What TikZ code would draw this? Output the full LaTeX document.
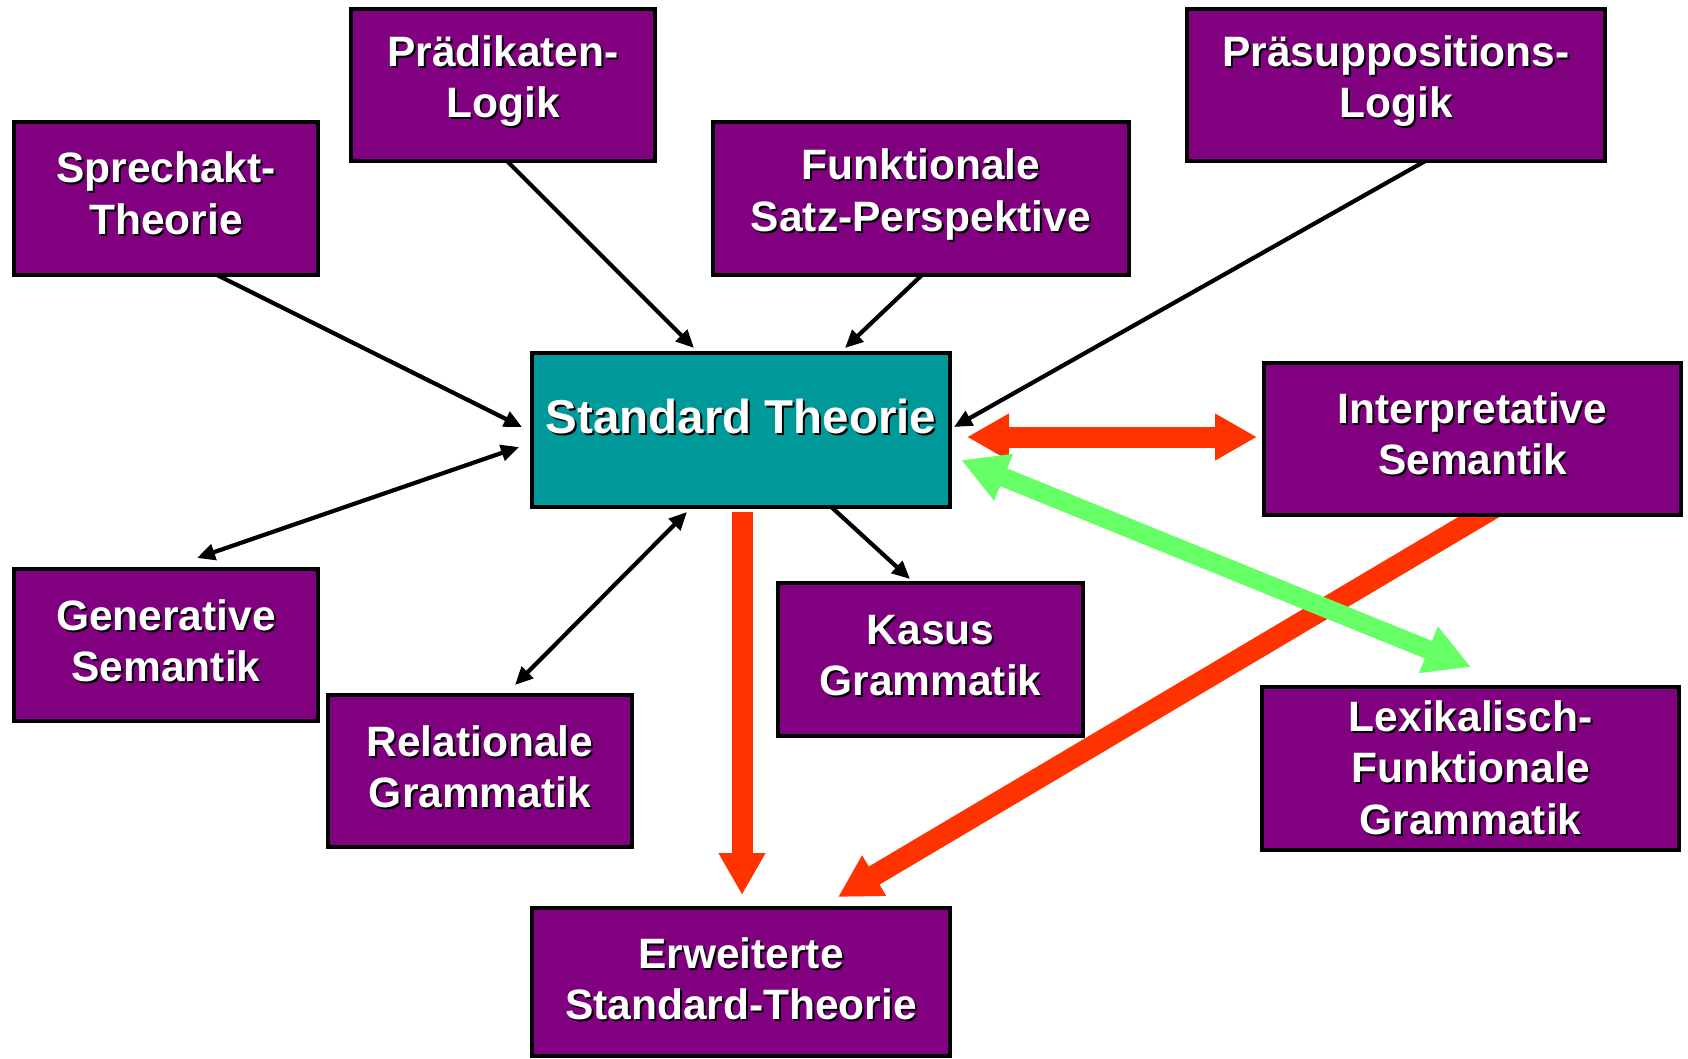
\documentclass[tikz,border=0pt]{standalone}
\usepackage{fontspec}
\setmainfont{Liberation Sans}
\usetikzlibrary{arrows.meta}

\definecolor{boxpurple}{HTML}{800080}
\definecolor{boxteal}{HTML}{009999}
\definecolor{arrred}{HTML}{FF3300}
\definecolor{arrgreen}{HTML}{66FF66}

\tikzset{
  panel/.style={draw=black, line width=4.5pt, inner sep=0pt},
  lbl/.style={align=center, inner sep=0pt, font=\fontsize{42.5}{51.5}\selectfont\bfseries},
  biglbl/.style={align=center, inner sep=0pt, font=\fontsize{47.5}{56}\selectfont\bfseries},
  thinarr/.style={line width=4.2pt, -{Triangle[length=18pt,width=16pt]}},
  thinboth/.style={line width=4.2pt, {Triangle[length=18pt,width=16pt]}-{Triangle[length=18pt,width=16pt]}},
  redarr/.style={draw=arrred, line width=21pt, -{Triangle[length=42pt,width=44pt]}},
  redboth/.style={draw=arrred, line width=21pt, {Triangle[length=42pt,width=44pt]}-{Triangle[length=42pt,width=44pt]}},
  greenboth/.style={draw=arrgreen, line width=19pt, {Triangle[length=46pt,width=47pt]}-{Triangle[length=46pt,width=47pt]}},
}

% #1 name, #2..#5 corners (x1,y1,x2,y2), #6 fill colour
\newcommand\panelbox[6]{%
  \node[panel, fill=#6, minimum width={(#4-#2)*1pt}, minimum height={(#5-#3)*1pt}]
    (#1) at ({(#2+#4)/2},{(#3+#5)/2}) {};}
% #1 panel name, #2 label style, #3 vertical offset, #4 text (white with black drop shadow)
\newcommand\paneltext[4]{%
  \node[#2, text=black] (#1-shadow) at ([shift={(2,#3+2)}]#1.center) {#4};
  \node[#2, text=white] (#1-label) at ([shift={(0,#3)}]#1.center) {#4};}

\begin{document}
\begin{tikzpicture}[x=1pt, y=-1pt]
\fill[white] (0,0) rectangle (1688,1058);
\useasboundingbox (0,0) rectangle (1688,1058);

% connector end points
\coordinate (p1a) at (215,274);  \coordinate (p1b) at (522,427);
\coordinate (p2a) at (506,160);  \coordinate (p2b) at (694,348);
\coordinate (p3a) at (923,274);  \coordinate (p3b) at (845,348);
\coordinate (p4a) at (1427,160); \coordinate (p4b) at (954,427);
\coordinate (p5a) at (197,558);  \coordinate (p5b) at (519,447);
\coordinate (p6a) at (515,685);  \coordinate (p6b) at (687,512);
\coordinate (p7a) at (827,503);  \coordinate (p7b) at (910,579);
\coordinate (q1a) at (967,437);  \coordinate (q1b) at (1257,437);
\coordinate (q2a) at (961,460);  \coordinate (q2b) at (1471,667);
\coordinate (q3a) at (742,512);  \coordinate (q3b) at (742,895);
\coordinate (q4a) at (1494,508); \coordinate (q4b) at (838,897);

% thin black connectors
\draw[thinarr] (p1a) -- (p1b);
\draw[thinarr] (p2a) -- (p2b);
\draw[thinarr] (p3a) -- (p3b);
\draw[thinarr] (p4a) -- (p4b);
\draw[thinboth] (p5a) -- (p5b);
\draw[thinboth] (p6a) -- (p6b);
\draw[thinarr] (p7a) -- (p7b);

% broad coloured connectors
\draw[redboth] (q1a) -- (q1b);
\draw[redarr] (q3a) -- (q3b);
\draw[redarr] (q4a) -- (q4b);
\draw[greenboth] (q2a) -- (q2b);

% panels
\panelbox{sp}{14}{122}{318}{275}{boxpurple}
\panelbox{pr}{351}{9}{655}{161}{boxpurple}
\panelbox{fu}{713}{122}{1129}{275}{boxpurple}
\panelbox{ps}{1187}{9}{1605}{161}{boxpurple}
\panelbox{st}{532}{353}{950}{507}{boxteal}
\panelbox{in}{1264}{363}{1681}{515}{boxpurple}
\panelbox{ge}{14}{569}{318}{721}{boxpurple}
\panelbox{re}{328}{695}{632}{847}{boxpurple}
\panelbox{ka}{778}{583}{1083}{736}{boxpurple}
\panelbox{le}{1262}{687}{1679}{850}{boxpurple}
\panelbox{er}{532}{908}{950}{1056}{boxpurple}

\paneltext{sp}{lbl}{-5}{Sprechakt-\\Theorie}
\paneltext{pr}{lbl}{-4}{Prädikaten-\\Logik}
\paneltext{fu}{lbl}{-4}{Funktionale\\Satz-Perspektive}
\paneltext{ps}{lbl}{-4}{Präsuppositions-\\Logik}
\paneltext{st}{biglbl}{-13}{Standard Theorie}
\paneltext{in}{lbl}{-5}{Interpretative\\Semantik}
\paneltext{ge}{lbl}{-4}{Generative\\Semantik}
\paneltext{re}{lbl}{-4}{Relationale\\Grammatik}
\paneltext{ka}{lbl}{-4}{Kasus\\Grammatik}
\paneltext{le}{lbl}{-1}{Lexikalisch-\\Funktionale\\Grammatik}
\paneltext{er}{lbl}{-3}{Erweiterte\\Standard-Theorie}
\end{tikzpicture}
\end{document}
